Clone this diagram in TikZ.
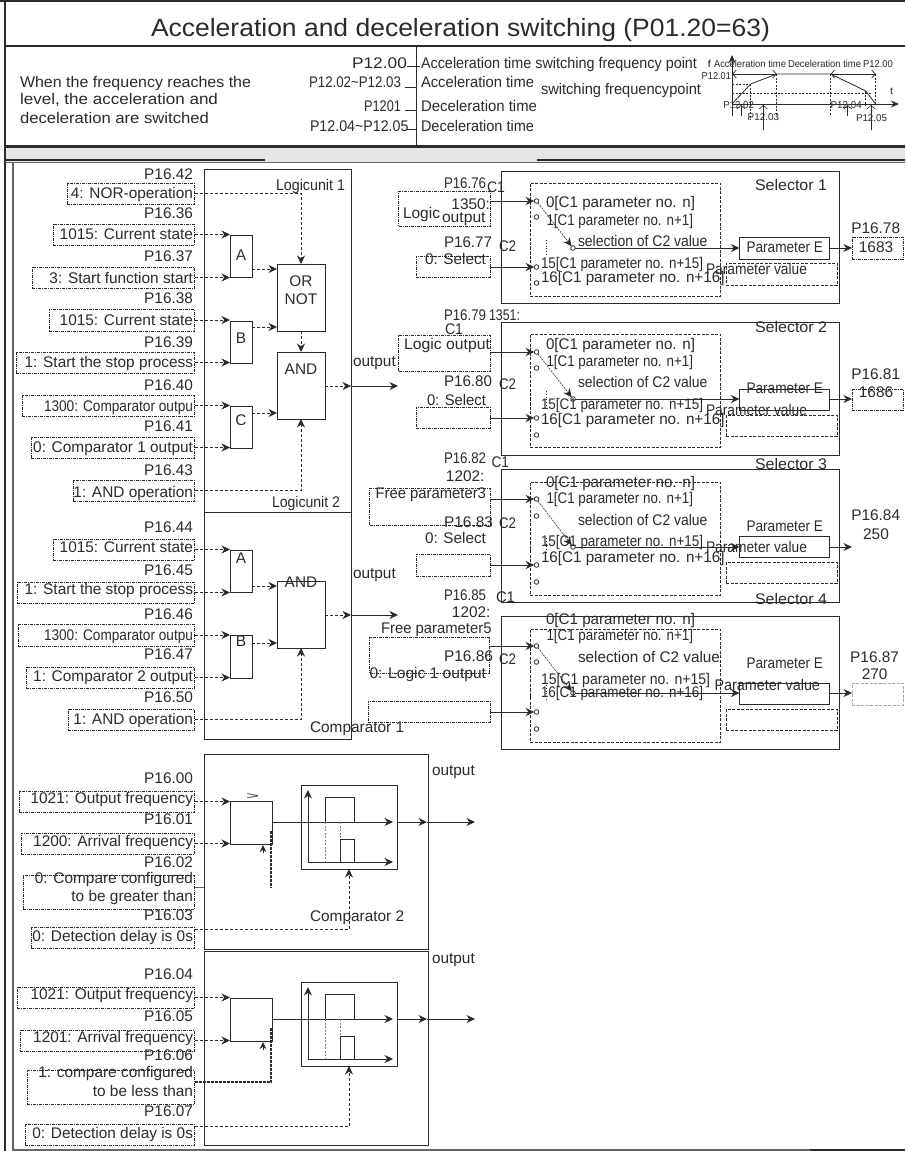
\documentclass[tikz,border=0pt]{standalone}
\usepackage{fontspec}
\usepackage{graphicx}
\setmainfont{Liberation Sans}
\usetikzlibrary{arrows.meta,calc}
\definecolor{ink}{HTML}{2B2B2B}
\definecolor{frameg}{HTML}{666666}
\definecolor{bandg}{HTML}{E6E6E6}
\newcommand\Fn{\fontsize{15.4}{17}\selectfont}
\newcommand\Fs{\fontsize{10}{12}\selectfont}
\newcounter{tcnt}
\tikzset{
  txt/.style={font=\Fn,inner sep=0pt,outer sep=0pt,text=ink,text height=10.5pt,text depth=0pt},
  small/.style={font=\Fs,text height=7pt},
  rlab/.style={txt,anchor=east},
  llab/.style={txt,anchor=west},
  clab/.style={txt,anchor=center},
  bxs/.style={rectangle,inner sep=0pt,outer sep=0pt,anchor=north west},
  solidb/.style={bxs,draw=ink,line width=0.9pt},
  thickb/.style={bxs,draw=ink,line width=1pt},
  parab/.style={bxs,draw=ink,line width=0.8pt,dash pattern=on 3pt off 1pt on 1pt off 1pt},
  innerb/.style={bxs,draw=ink,line width=0.8pt,dash pattern=on 3pt off 1.5pt},
  ghostb/.style={bxs,draw=gray!70,line width=0.8pt,dash pattern=on 3pt off 1.5pt},
  circ/.style={circle,draw=ink,line width=0.8pt,inner sep=0pt,outer sep=0pt,minimum size=4.6pt},
  head/.style={-{Stealth[length=8.5pt,width=8pt]}},
  da/.style={draw=ink,line width=0.8pt,dash pattern=on 3pt off 2pt,head},
  sa/.style={draw=ink,line width=0.9pt,head},
  ln/.style={draw=ink,line width=0.9pt},
  tiny/.style={-{Straight Barb[length=3.5pt,width=8pt]},draw=ink,line width=0.6pt},
  tinyb/.style={{Straight Barb[length=3.5pt,width=8pt]}-{Straight Barb[length=3.5pt,width=8pt]},draw=ink,line width=0.7pt},
  chartd/.style={draw=ink,line width=0.5pt,dash pattern=on 2pt off 1.5pt},
}
% text at natural width
\newcommand\T[4][llab]{\stepcounter{tcnt}\node[#1] (t\arabic{tcnt}) at (#2,#3) {#4};}
% text set to span x1..x2
\newcommand\W[5][]{\stepcounter{tcnt}\pgfmathsetmacro\wdt{#3-#2}\node[llab,#1] (t\arabic{tcnt}) at (#2,#4) {\resizebox{\wdt pt}{\height}{#5}};}
% box: style, name, x1,y1,x2,y2
\newcommand\B[6]{\node[#1,minimum width={((#5)-(#3))*1pt},minimum height={((#6)-(#4))*1pt}] (#2) at ({#3},{#4}) {};}
% parameter: name, code, codeY, value, valueY, left, top, bottom
\newcommand\Inp[8]{\T[rlab]{193}{#3}{#2}\T[rlab]{193}{#5}{#4}\B{parab}{#1}{#6}{#7}{194.5}{#8}}
% selector body: id, y1,y2, dy1,dy2
\newcommand\SelBody[5]{\B{solidb}{#1}{501.5}{#2}{839.6}{#3}\B{innerb}{#1i}{530}{#4}{720.6}{#5}}
% circles and switch: id,c0,c1,c2,c3,sel
\newcommand\SelSw[6]{%
  \node[circ] (#1c0) at (536.5,#2) {};\node[circ] (#1c1) at (536.5,#3) {};
  \node[circ] (#1c2) at (536.5,#4) {};\node[circ] (#1c3) at (536.5,#5) {};
  \node[circ] (#1s) at (573,#6) {};
  \draw[draw=ink,line width=0.6pt,dash pattern=on 2pt off 1pt,head] (#1c0) -- (#1s);
  \draw[draw=ink,line width=0.8pt,dotted] (546.5,{#4-27}) -- (546.5,{#4-11});
  \draw[draw=ink,line width=0.8pt,dotted] (530.5,{#4-27}) -- (530.5,{#4-11});
}
% option lines: y0,y1,ysel,y15,y16
\newcommand\SelOpt[5]{%
  \W{546}{695}{#1}{0[C1 parameter no. n]}
  \W{546.5}{693}{#2}{1[C1 parameter no. n+1]}
  \W{578}{707.5}{#3}{selection of C2 value}
  \W{541}{703}{#4}{15[C1 parameter no. n+15]}
  \W{541}{724.5}{#5}{16[C1 parameter no. n+16]}
}
% comparator block: id,dy
\newcommand\Cmp[2]{%
  \B{solidb}{#1r}{230}{801+#2}{272}{844+#2}
  \B{thickb}{#1i}{301}{785+#2}{397}{869+#2}
  \coordinate (#1o0) at (272,{822+#2});
  \coordinate (#1o1) at (393,{822+#2});
  \coordinate (#1o2) at (427,{822+#2});
  \coordinate (#1o3) at (475,{822+#2});
  \coordinate (#1a0) at (308,{862+#2});
  \coordinate (#1a1) at (308,{790+#2});
  \coordinate (#1a2) at (393,{862+#2});
  \draw[ln] (#1o0) -- (#1i.west |- #1o0);
  \draw[sa] (#1i.west |- #1o0) -- (#1o1);
  \draw[sa] (#1i.east |- #1o0) -- (#1o2);
  \draw[sa] (#1o2) -- (#1o3);
  \draw[sa] (#1a0) -- (#1a1);
  \draw[sa] (#1a0) -- (#1a2);
  \draw[ln] (325,{822+#2}) -- (325,{797+#2}) -- (354,{797+#2}) -- (354,{822+#2});
  \draw[ln] (340,{862+#2}) -- (340,{839+#2}) -- (354,{839+#2}) -- (354,{862+#2});
  \draw[chartd,gray] (325,{822+#2}) -- (325,{862+#2});
  \draw[chartd,gray] (340,{822+#2}) -- (340,{839+#2});
  \draw[ink,line width=0.8pt,-{Stealth[length=7pt,width=6.5pt]}] (263,{853+#2}) -- (263,{845+#2});
}
\begin{document}
\begin{tikzpicture}[x=1pt,y=-1pt,line cap=butt]
\useasboundingbox (0,0) rectangle (905,1151);
\fill[white] (0,0) rectangle (905,1151);
% ---------- frame
\fill[bandg] (5,147) rectangle (905,162);
\draw[ink,line width=2pt] (0,1) -- (905,1);
\draw[ink,line width=2pt] (5,0) -- (5,1151);
\draw[ink,line width=2pt] (5,46) -- (905,46);
\draw[ink,line width=2.4pt] (5,146.5) -- (905,146.5);
\draw[ink,line width=1.4pt] (416.6,46) -- (416.6,146);
\draw[ink,line width=1.1pt] (5,160) -- (265,160);
\draw[ink,line width=1.1pt] (537,160) -- (905,160);
\draw[frameg,line width=1pt] (5,162) -- (905,162);
\draw[frameg,line width=1.4pt] (13,162) -- (13,1150) -- (905,1150);
\draw[ink,line width=1.4pt] (810,1150) -- (905,1150);
% ---------- header
\W[font=\fontsize{25}{28}\selectfont,text height=18pt]{151}{770}{27}{Acceleration and deceleration switching (P01.20=63)}
\W{20}{251}{82}{When the frequency reaches the}
\W{20}{218}{99}{level, the acceleration and}
\W{20}{209}{118}{deceleration are switched}
\W{352}{407}{63}{P12.00}
\W{309}{401}{82}{P12.02\textasciitilde P12.03}
\W{364}{401}{106}{P1201}
\W{310}{408.5}{126}{P12.04\textasciitilde P12.05}
\W{421}{697}{63}{Acceleration time switching frequency point}
\W{421}{534}{82}{Acceleration time}
\W{541}{701}{89}{switching frequencypoint}
\W{421}{537}{106}{Deceleration time}
\W{421}{534}{126}{Deceleration time}
\draw[ink,line width=0.8pt] (407,66) -- (420,66);
\draw[ink,line width=0.8pt] (405,87) -- (417,87);
\draw[ink,line width=0.8pt] (405,110) -- (417,110);
\draw[ink,line width=0.8pt] (407,129) -- (417,129);
% mini chart
\coordinate (mo) at (732,104);
\coordinate (mt) at (732,55);
\coordinate (mb) at (732,116);
\coordinate (mr) at (899,104);
\draw[ink,line width=1pt,-{Stealth[length=8pt,width=7pt]}] (mb) -- (mt);
\draw[ink,line width=1pt,-{Stealth[length=8pt,width=7pt]}] (mo) -- (mr);
\draw[ink,line width=0.8pt] (mo) -- (750.7,84) -- (776.7,74) -- (830.7,74) -- (865.7,91) -- (875.7,104);
\draw[chartd] (mo |- 0,84.5) -- (750.7,84.5);
\draw[chartd] (mo |- 0,93) -- (872,93);
\draw[chartd] (750.7,84) -- (750.7,120);
\draw[chartd] (776.7,74) -- (776.7,116);
\draw[chartd] (830.7,74) -- (830.7,116);
\draw[chartd] (865.7,91) -- (865.7,106);
\draw[chartd] (875.7,74) -- (875.7,104);
\draw[tinyb] (732.3,74) -- (776.7,74);
\draw[tinyb] (830.7,74) -- (875.7,74);
\draw[tiny] (741,116) -- (741,105);
\draw[tiny] (763.3,130) -- (763.3,105);
\draw[tiny] (847.7,116) -- (847.7,105);
\draw[tiny] (871,130) -- (871,105);
\W[small]{707.5}{711}{64}{f}
\W[small]{714}{786}{64}{Acceleration time}
\W[small]{788}{861}{64}{Deceleration time}
\W[small]{863}{893}{64}{P12.00}
\W[small]{701.7}{731}{76}{P12.01}
\W[small]{890}{893}{91}{t}
\W[small]{723.3}{754}{105}{P12.02}
\W[small]{830.7}{861.7}{105}{P12.04}
\W[small]{747.7}{779}{117}{P12.03}
\W[small]{856}{887}{118}{P12.05}
% ---------- logic units
\B{solidb}{lu1}{204}{169}{351}{512}
\B{solidb}{lu2}{204}{512}{351}{739}
\W{276}{345}{185}{Logicunit 1}
\W{272}{340}{502}{Logicunit 2}
\T{310}{727}{Comparator 1}
\Inp{nor}{P16.42}{174}{4: NOR-operation}{193}{67}{183}{204}
\Inp{cs1}{P16.36}{213}{1015: Current state}{234}{53}{224}{245}
\Inp{sf}{P16.37}{256}{3: Start function start}{278}{32}{267}{288}
\Inp{cs2}{P16.38}{298}{1015: Current state}{320}{49}{309}{331}
\Inp{ss1}{P16.39}{342}{1: Start the stop process}{362}{16}{352}{373}
\T[rlab]{193}{385}{P16.40}
\W{44}{193}{406}{1300: Comparator outpu}
\B{parab}{co1}{22}{395}{194.5}{416}
\Inp{cm1}{P16.41}{426}{0: Comparator 1 output}{447}{31}{437}{458}
\Inp{an1}{P16.43}{470}{1: AND operation}{492}{73}{480}{501}
\B{solidb}{ga}{230}{235}{252}{277}
\B{solidb}{gb}{230}{321}{252}{363}
\B{solidb}{gc}{230}{406}{252}{448}
\B{solidb}{ornot}{277}{264}{325}{331}
\B{solidb}{and1}{277}{352}{325}{419}
\T[clab]{241}{255}{A}
\T[clab]{241}{338}{B}
\T[clab]{241}{420}{C}
\T[clab]{301}{281}{OR}
\T[clab]{301}{299}{NOT}
\T[clab]{301}{369}{AND}
\draw[da] (nor.east) -- (nor.east -| ornot.north) -- (ornot.north);
\draw[da] (cs1.east) -- (cs1.east -| ga.west);
\draw[da] (sf.east) -- (sf.east -| ga.west);
\draw[da] (cs2.east) -- (cs2.east -| gb.west);
\draw[da] (ss1.east) -- (ss1.east -| gb.west);
\draw[da] (co1.east) -- (co1.east -| gc.west);
\draw[da] (cm1.east) -- (cm1.east -| gc.west);
\draw[da] (ga.east |- 0,269) -- (ornot.west |- 0,269);
\draw[da] (gb.east |- 0,327) -- (ornot.west |- 0,327);
\draw[da] (gc.east |- 0,413) -- (and1.west |- 0,413);
\draw[da] (ornot.south) -- (and1.north);
\draw[da] (an1.east) -- (an1.east -| and1.south) -- (and1.south);
\coordinate (o1a) at (398,386);
\draw[da] (and1.east |- o1a) -- (lu1.east |- o1a);
\draw[sa] (lu1.east |- o1a) -- (o1a);
\T{353}{361}{output}
% unit 2
\Inp{cs3}{P16.44}{527}{1015: Current state}{547}{53}{539}{560}
\Inp{ss2}{P16.45}{570}{1: Start the stop process}{589}{17}{582}{603}
\T[rlab]{193}{614}{P16.46}
\W{44}{193}{635}{1300: Comparator outpu}
\B{parab}{co2}{18}{624}{194.5}{646}
\Inp{cm2}{P16.47}{654}{1: Comparator 2 output}{676}{26}{667}{688}
\Inp{an2}{P16.50}{697}{1: AND operation}{719}{68}{709}{730}
\B{solidb}{ha}{230}{550}{252}{592}
\B{solidb}{hb}{230}{635}{252}{678}
\B{solidb}{and2}{277}{581}{325}{648}
\T[clab]{241}{558}{A}
\T[clab]{241}{641}{B}
\T[clab]{301}{582}{AND}
\draw[da] (cs3.east) -- (cs3.east -| ha.west);
\draw[da] (ss2.east) -- (ss2.east -| ha.west);
\draw[da] (co2.east) -- (co2.east -| hb.west);
\draw[da] (cm2.east) -- (cm2.east -| hb.west);
\draw[da] (ha.east |- 0,586) -- (and2.west |- 0,586);
\draw[da] (hb.east |- 0,643) -- (and2.west |- 0,643);
\draw[da] (an2.east) -- (an2.east -| and2.south) -- (and2.south);
\coordinate (o2a) at (398,615);
\draw[da] (and2.east |- o2a) -- (lu2.east |- o2a);
\draw[sa] (lu2.east |- o2a) -- (o2a);
\T{353}{573}{output}
% ---------- comparators
\B{solidb}{cb1}{204}{754}{428}{949}
\B{solidb}{cb2}{204}{951}{428}{1145}
\T{432}{770}{output}
\T{432}{958}{output}
\T{310}{916}{Comparator 2}
\Inp{of1}{P16.00}{778}{1021: Output frequency}{798}{19}{791}{812}
\Inp{af1}{P16.01}{819}{1200: Arrival frequency}{841}{21}{833}{854}
\T[rlab]{193}{862}{P16.02}
\T[rlab]{193}{878}{0: Compare configured}
\T[rlab]{193}{896}{to be greater than}
\B{parab}{gt}{23}{875}{194.5}{909}
\Inp{dd1}{P16.03}{915}{0: Detection delay is 0s}{936}{31}{927}{948}
\Cmp{ca}{0}
\W[font=\fontsize{10}{12}\selectfont,text height=7pt]{246}{259}{796}{>}
\draw[da] (of1.east) -- (of1.east -| car.west);
\draw[da] (af1.east) -- (af1.east -| car.west);
\draw[ln,frameg] (gt.east |- 0,887) -- (cb1.west |- 0,887);
\draw[ink,line width=1.5pt,dash pattern=on 3pt off 1pt] (271,831) -- (271,888);
\draw[da] (dd1.east |- 0,929) -- (cai.south |- 0,929) -- (cai.south);
\Inp{of2}{P16.04}{974}{1021: Output frequency}{994}{17}{987}{1008}
\Inp{af2}{P16.05}{1016}{1201: Arrival frequency}{1037}{20}{1030}{1051}
\T[rlab]{193}{1055}{P16.06}
\T[rlab]{193}{1072}{1: compare configured}
\T[rlab]{193}{1091}{to be less than}
\B{parab}{lt}{27}{1070}{194.5}{1104}
\Inp{dd2}{P16.07}{1111}{0: Detection delay is 0s}{1133}{25}{1124}{1145}
\Cmp{cc}{197}
\draw[da] (of2.east) -- (of2.east -| ccr.west);
\draw[da] (af2.east) -- (af2.east -| ccr.west);
\draw[ink,line width=1.5pt,dash pattern=on 3pt off 1pt] (lt.east |- 0,1082) -- (271,1082) -- (271,1028);
\draw[da] (dd2.east |- 0,1126) -- (cci.south |- 0,1126) -- (cci.south);
% ---------- selector 1
\SelBody{s1}{171}{303}{183}{296}
\W{755}{827}{185}{Selector 1}
\W{444}{486}{183}{P16.76}
\W{487}{505}{187}{C1}
\B{parab}{s1a}{398.5}{191}{490}{226}
\T[rlab]{490}{204}{1350:}
\W{403}{440}{213}{Logic}
\W{442}{485.6}{217}{output}
\W{444}{492}{242}{P16.77}
\W{499}{516}{246}{C2}
\B{parab}{s1b}{416}{256}{490}{277}
\W{425}{486}{259}{0: Select}
\SelSw{s1}{201}{217}{267}{283}{248}
\SelOpt{202}{220}{241}{263}{277}
\draw[sa] (s1a.east |- s1c0) -- (s1c0.west);
\draw[sa] (s1b.east |- s1c2) -- (s1c2.west);
\B{thickb}{s1e}{739.4}{237}{829.6}{259}
\W{746.5}{823}{247}{Parameter E}
\B{parab}{s1o}{852}{237}{903}{259}
\T[clab]{876}{247}{1683}
\T[clab]{875.7}{228}{P16.78}
\B{innerb}{s1v}{726}{263}{837}{285}
\W{706}{807}{269}{Parameter value}
\draw[sa] (s1s.east) -- (s1e.west |- s1s);
\draw[sa] (s1e.east |- s1s) -- (s1o.west |- s1s);
% ---------- selector 2
\SelBody{s2}{322}{455}{334}{447}
\W{755}{827}{327}{Selector 2}
\W{444}{486}{315}{P16.79}
\W{489}{520}{315}{1351:}
\W{445}{463}{329}{C1}
\B{parab}{s2a}{398.5}{335}{490}{371}
\W{404}{490}{344}{Logic output}
\W{444}{492}{381}{P16.80}
\W{499}{516}{384}{C2}
\W{427}{486}{400}{0: Select}
\B{parab}{s2b}{416}{407}{490}{428}
\SelSw{s2}{352}{368}{418}{435}{399}
\SelOpt{344}{361}{382}{404}{419}
\draw[sa] (s2a.east |- s2c0) -- (s2c0.west);
\draw[sa] (s2b.east |- s2c2) -- (s2c2.west);
\B{thickb}{s2e}{739.4}{389}{829.6}{410}
\W{746.5}{823}{388}{Parameter E}
\B{parab}{s2o}{852}{389}{903}{410}
\T[clab]{876}{392}{1686}
\T[clab]{875.7}{374}{P16.81}
\B{innerb}{s2v}{726}{415}{837}{436}
\W{706}{807}{410}{Parameter value}
\draw[sa] (s2s.east) -- (s2e.west |- s2s);
\draw[sa] (s2e.east |- s2s) -- (s2o.west |- s2s);
% ---------- selector 3
\SelBody{s3}{469}{602}{482}{595}
\W{755}{827}{464}{Selector 3}
\W{444}{486}{458}{P16.82}
\W{491.6}{509}{462}{C1}
\T[rlab]{484.5}{476}{1202:}
\B{parab}{s3a}{369.5}{488}{490}{525}
\W{375.5}{486}{493}{Free parameter3}
\W{444}{493}{522}{P16.83}
\W{499}{516}{523}{C2}
\W{425}{486}{538}{0: Select}
\B{parab}{s3b}{416}{554}{490}{576}
\SelSw{s3}{499}{516}{565}{582}{547}
\SelOpt{482}{498}{520}{541}{557}
\draw[sa] (s3a.east |- s3c0) -- (s3c0.west);
\draw[sa] (s3b.east |- s3c2) -- (s3c2.west);
\B{thickb}{s3e}{739.4}{536}{829.6}{557}
\W{746.5}{823}{526}{Parameter E}
\T[clab]{875.7}{515}{P16.84}
\T[clab]{876}{534}{250}
\B{innerb}{s3v}{726}{562}{837}{583}
\W{706}{807}{547}{Parameter value}
\coordinate (s3o) at (852,547);
\draw[sa] (s3s.east) -- (s3e.west |- s3s);
\draw[sa] (s3e.east |- s3s) -- (s3o);
% ---------- selector 4
\SelBody{s4}{616}{749}{629}{742}
\W{755}{827}{599}{Selector 4}
\W{444}{486}{595}{P16.85}
\W{496}{515}{597}{C1}
\T[rlab]{490.5}{612}{1202:}
\W{381}{491.6}{628}{Free parameter5}
\B{parab}{s4a}{369.5}{637}{489.8}{673}
\W{444}{493}{656}{P16.86}
\W{499}{516}{659}{C2}
\W{369.5}{486}{673}{0: Logic 1 output}
\B{parab}{s4b}{368}{701}{490}{722}
\SelSw{s4}{646}{662}{712}{729}{693}
\W{546}{695}{619}{0[C1 parameter no. n]}
\W{546.5}{693}{635}{1[C1 parameter no. n+1]}
\W{578}{720}{657}{selection of C2 value}
\W{541}{710}{679}{15[C1 parameter no. n+15]}
\W{541}{703}{692}{16[C1 parameter no. n+16]}
\draw[sa] (s4a.east |- s4c0) -- (s4c0.west);
\draw[sa] (s4b.east |- s4c2) -- (s4c2.west);
\B{thickb}{s4e}{739.4}{683}{829.6}{704}
\W{746.5}{823}{663}{Parameter E}
\B{ghostb}{s4o}{852}{683}{903}{705}
\T[clab]{874.6}{657}{P16.87}
\T[clab]{874.6}{674}{270}
\B{innerb}{s4v}{726}{709}{837}{730}
\W{714.6}{820}{685}{Parameter value}
\draw[sa] (s4s.east) -- (s4e.west |- s4s);
\draw[sa] (s4e.east |- s4s) -- (s4o.west |- s4s);
\end{tikzpicture}
\end{document}
